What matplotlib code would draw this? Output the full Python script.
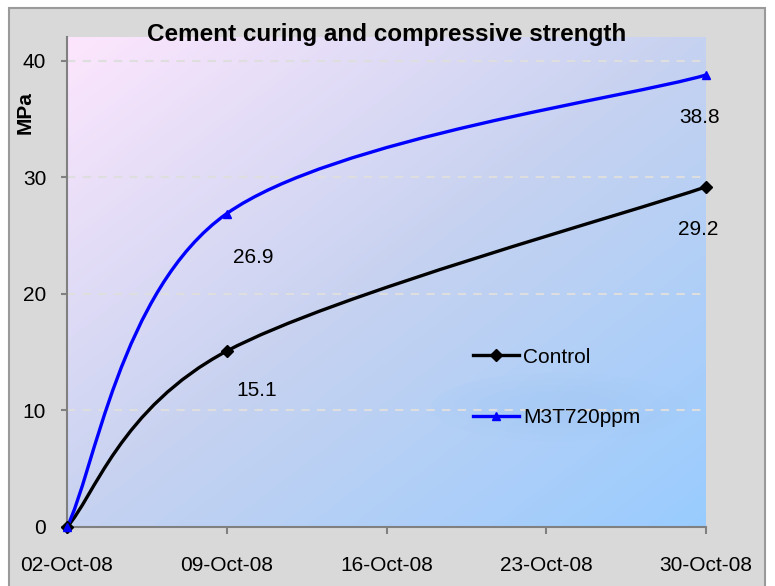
import numpy as np
import matplotlib
matplotlib.use('Agg')
import matplotlib.pyplot as plt
import matplotlib.dates as mdates
from datetime import datetime
from matplotlib.path import Path
from matplotlib.patches import PathPatch, Rectangle, Ellipse
from matplotlib.lines import Line2D
from matplotlib.colors import LinearSegmentedColormap

plt.rcParams['font.family'] = ['Liberation Sans', 'DejaVu Sans']

# data
dates = ['2008-10-02', '2008-10-09', '2008-10-30']
control = [0, 15.1, 29.2]
m3t720 = [0, 26.9, 38.8]
series_names = ['Control', 'M3T720ppm']
tick_dates = ['2008-10-02', '2008-10-09', '2008-10-16', '2008-10-23', '2008-10-30']
y_ticks = [0, 10, 20, 30, 40]

# label offsets in pixels (manually placed in the original)
control_label_offsets = [None, (30, -39), (-8, -43)]
m3t_label_offsets = [None, (26, -44), (-6, -43)]


def to_num(ds):
    return np.array([mdates.date2num(datetime.strptime(d, '%Y-%m-%d')) for d in ds])


def smooth_path(xs, ys):
    # Catmull-Rom style bezier, like Excel's "smoothed line"
    pts = np.column_stack([xs, ys]).astype(float)
    padded = np.vstack([pts[0], pts, pts[-1]])
    verts = [pts[0]]
    codes = [Path.MOVETO]
    for i in range(len(pts) - 1):
        p0, p1, p2, p3 = padded[i], padded[i + 1], padded[i + 2], padded[i + 3]
        verts += [p1 + (p2 - p0) / 6, p2 - (p3 - p1) / 6, p2]
        codes += [Path.CURVE4] * 3
    return Path(verts, codes)


x = to_num(dates)
xt = to_num(tick_dates)

fig = plt.figure(figsize=(7.75, 5.86), dpi=100)
fig.patch.set_facecolor('white')
fig.patches.append(Rectangle((9 / 775, -0.02), (765 - 9) / 775, 1.02 - 8 / 586,
                             transform=fig.transFigure, facecolor='#d9d9d9',
                             edgecolor='#9a9a9a', linewidth=1.5, zorder=-5))

ax = fig.add_axes([67 / 775, 59 / 586, (706 - 67) / 775, (527 - 37) / 586])
ax.set_zorder(1)
ax.set_facecolor('none')

# gradient background, pink top-left to blue bottom-right
cmap = LinearSegmentedColormap.from_list('bg', [(0, '#fde6fd'), (0.5, '#c6d2f0'), (1, '#99ccff')])
gx, gy = np.meshgrid(np.linspace(0, 1, 200), np.linspace(0, 1, 200))
grad = (gx + gy) / 2
ax.imshow(grad, cmap=cmap, extent=[0, 1, 0, 1], transform=ax.transAxes,
          origin='upper', aspect='auto', zorder=0, interpolation='bilinear')
# soft glow behind the legend
for k in range(4):
    sc = 1 - k * 0.18
    ax.add_patch(Ellipse((0.77, 0.245), 0.40 * sc, 0.14 * sc, transform=ax.transAxes,
                         facecolor='#a0c8f5', edgecolor='none', alpha=0.1, zorder=0.5))

ax.set_xlim(xt[0], xt[-1])
ax.set_ylim(0, 42.06)

for yv in y_ticks[1:]:
    ax.axhline(yv, color='#dedede', linewidth=1.5, linestyle=(0, (4, 3.5)), zorder=1)

colors = ['black', '#0000ff']
markers = ['D', '^']
for ys, c, m, offs in [(control, colors[0], markers[0], control_label_offsets),
                       (m3t720, colors[1], markers[1], m3t_label_offsets)]:
    ax.add_patch(PathPatch(smooth_path(x, ys), facecolor='none', edgecolor=c,
                           linewidth=2.4, zorder=3, capstyle='round'))
    ax.plot(x, ys, linestyle='none', marker=m, markersize=6, color=c, zorder=4, clip_on=False)
    for xi, yi, off in zip(x, ys, offs):
        if off is None:
            continue
        ax.annotate(f'{yi:.1f}', (xi, yi), xytext=off, textcoords='offset pixels',
                    ha='center', va='center', fontsize=15, color='black', zorder=5)

for s in ['top', 'right']:
    ax.spines[s].set_visible(False)
for s in ['left', 'bottom']:
    ax.spines[s].set_color('#808080')
    ax.spines[s].set_linewidth(1.5)

ax.set_yticks(y_ticks)
ax.set_xticks(xt)
ax.xaxis.set_major_formatter(mdates.DateFormatter('%d-%b-%y'))
ax.tick_params(axis='y', length=4, width=1.5, color='#808080', pad=11, labelsize=15)
ax.tick_params(axis='x', length=5, width=1.5, color='#808080', pad=16, labelsize=15)

handles = [Line2D([], [], color=c, marker=m, markersize=6, linewidth=2.4)
           for c, m in zip(colors, markers)]
leg = fig.legend(handles, series_names, loc='center left', bbox_to_anchor=(473 / 775, 1 - 387.5 / 586),
                 frameon=False, fontsize=15, handlelength=2.2, handletextpad=0.2,
                 labelspacing=2.0, borderpad=0, borderaxespad=0)
leg.set_zorder(5)

fig.text(387 / 775, 1 - 35 / 586, 'Cement curing and compressive strength',
         ha='center', va='center', fontsize=17.5, fontweight='bold', zorder=6)
fig.text(25 / 775, 1 - 113 / 586, 'MPa', rotation=90, ha='center', va='center',
         fontsize=15, fontweight='bold')

fig.savefig('out.png', dpi=100)
